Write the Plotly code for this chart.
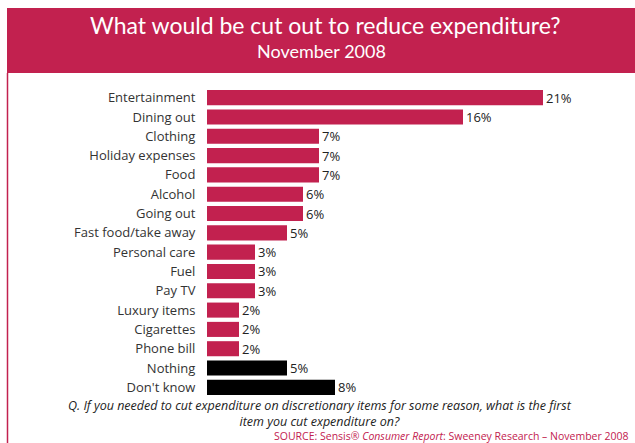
import plotly.graph_objects as go

categories = ["Entertainment", "Dining out", "Clothing", "Holiday expenses", "Food",
              "Alcohol", "Going out", "Fast food/take away", "Personal care", "Fuel",
              "Pay TV", "Luxury items", "Cigarettes", "Phone bill", "Nothing", "Don't know"]
values = [21, 16, 7, 7, 7, 6, 6, 5, 3, 3, 3, 2, 2, 2, 5, 8]
bar_colors = ["#C2214F"] * 14 + ["#000000", "#000000"]

W, H = 635, 443
L, R, T, B = 207, 20, 88, 46
pw, ph = W - L - R, H - T - B

def px(x):
    return (x - L) / pw

def py(y):
    return (H - B - y) / ph

fig = go.Figure(go.Bar(
    x=values, y=categories, orientation="h",
    marker=dict(color=bar_colors, line=dict(width=0)),
    width=0.78,
    text=[f"{v}%" for v in values], textposition="outside",
    constraintext="none",
    textfont=dict(family="Open Sans", size=13, color="#222222"),
    cliponaxis=False,
    hoverinfo="skip",
))

fig.update_layout(
    width=W, height=H,
    margin=dict(l=L, r=R, t=T, b=B),
    paper_bgcolor="white", plot_bgcolor="white",
    showlegend=False,
    xaxis=dict(range=[0, pw / 16], visible=False, fixedrange=True),
    yaxis=dict(autorange="reversed", showgrid=False, showline=False, zeroline=False,
               ticks="outside", ticklen=8, tickcolor="rgba(0,0,0,0)", fixedrange=True,
               tickfont=dict(family="Open Sans", size=13, color="#333333")),
    font=dict(family="Open Sans"),
    shapes=[
        dict(type="rect", xref="paper", yref="paper",
             x0=px(7), x1=px(640), y0=py(73), y1=py(8),
             fillcolor="#C2214F", line=dict(width=0), layer="below"),
        dict(type="line", xref="paper", yref="paper",
             x0=px(7.5), x1=px(7.5), y0=py(73), y1=py(445),
             line=dict(color="#C2214F", width=1.5)),
    ],
    annotations=[
        dict(xref="paper", yref="paper", x=px(325), y=py(25), showarrow=False,
             text="What would be cut out to reduce expenditure?",
             font=dict(family="Lato", size=23, color="white"),
             xanchor="center", yanchor="middle"),
        dict(xref="paper", yref="paper", x=px(321), y=py(51), showarrow=False,
             text="November 2008",
             font=dict(family="Lato", size=18, color="white"),
             xanchor="center", yanchor="middle"),
        dict(xref="paper", yref="paper", x=px(320), y=py(413), showarrow=False,
             text="<i>Q. If you needed to cut expenditure on discretionary items for some reason, what is the first"
                  "<br>item you cut expenditure on?</i>",
             font=dict(family="Open Sans", size=12.5, color="#222222"),
             align="center", xanchor="center", yanchor="middle"),
        dict(xref="paper", yref="paper", x=px(631), y=py(436), showarrow=False,
             text="SOURCE: Sensis® <i>Consumer Report</i>: Sweeney Research – November 2008",
             font=dict(family="Open Sans", size=10.5, color="#C2214F"),
             xanchor="right", yanchor="middle"),
    ],
)

fig.write_html("out.html", config={"displayModeBar": False},
               post_script="document.body.style.margin='0';document.body.style.padding='0';")
